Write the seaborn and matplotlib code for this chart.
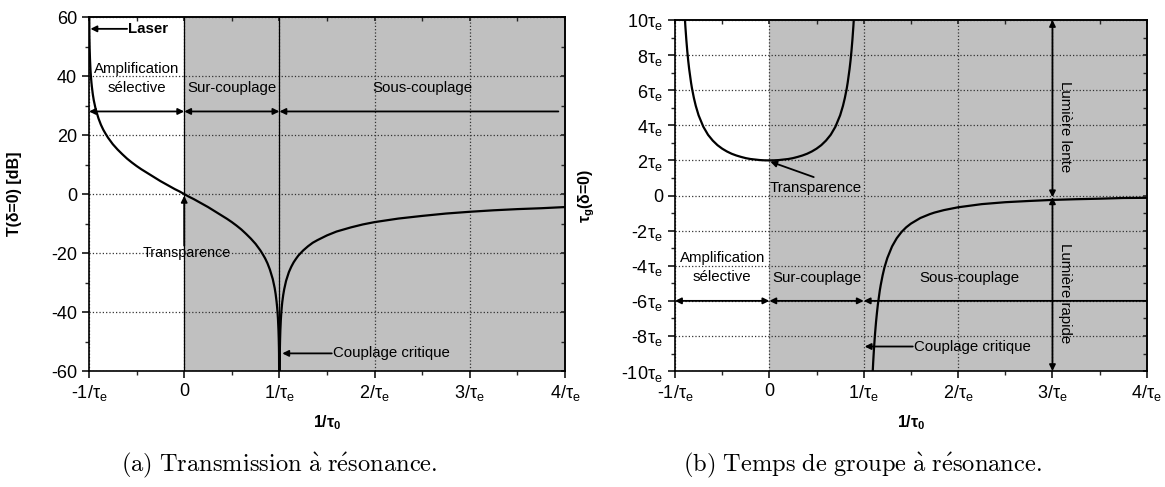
import matplotlib
matplotlib.use("Agg")
import matplotlib.pyplot as plt
from matplotlib.ticker import MultipleLocator
import seaborn as sns

# (a) transmission at resonance
trans_x = [-0.997, -0.996, -0.995, -0.993, -0.99, -0.985, -0.98, -0.975, -0.97, -0.96,
           -0.95, -0.93, -0.9, -0.875, -0.85, -0.825, -0.8, -0.75, -0.7, -0.65,
           -0.6, -0.55, -0.5, -0.45, -0.4, -0.35, -0.3, -0.25, -0.2, -0.15, -0.1, -0.05,
           0.0, 0.05, 0.1, 0.15, 0.2, 0.25, 0.3, 0.35, 0.4, 0.45, 0.5, 0.55,
           0.6, 0.65, 0.7, 0.75, 0.8, 0.825, 0.85, 0.875, 0.9, 0.93, 0.95, 0.96,
           0.97, 0.975, 0.98, 0.985, 0.99, 0.993, 0.995, 0.996, 0.997,
           1.0, 1.002, 1.003, 1.004, 1.005, 1.007, 1.01, 1.015, 1.02, 1.025, 1.03,
           1.04, 1.05, 1.07, 1.1, 1.125, 1.15, 1.175, 1.2, 1.25, 1.3, 1.35, 1.4,
           1.5, 1.6, 1.75, 1.875, 2.0, 2.25, 2.5, 2.75, 3.0, 3.25, 3.5, 3.75, 4.0]
trans_db = [60.0, 54.0, 52.0, 49.1, 46.0, 42.4, 39.9, 38.0, 36.4, 33.8,
            31.8, 28.8, 25.6, 23.5, 21.8, 20.4, 19.1, 16.9, 15.1, 13.5,
            12.0, 10.7, 9.5, 8.4, 7.4, 6.4, 5.4, 4.4, 3.5, 2.6, 1.7, 0.9,
            0.0, -0.9, -1.7, -2.6, -3.5, -4.4, -5.4, -6.4, -7.4, -8.4, -9.5, -10.7,
            -12.0, -13.5, -15.1, -16.9, -19.1, -20.4, -21.8, -23.5, -25.6, -28.8, -31.8, -33.8,
            -36.4, -38.0, -39.9, -42.4, -46.0, -49.1, -52.0, -54.0, -60.0,
            -60.0, -60.0, -56.5, -54.0, -52.1, -49.2, -46.1, -42.6, -40.1, -38.2, -36.6,
            -34.2, -32.3, -29.4, -26.4, -24.6, -23.1, -21.9, -20.8, -19.1, -17.7, -16.5, -15.6,
            -14.0, -12.7, -11.3, -10.3, -9.5, -8.3, -7.4, -6.6, -6.0, -5.5, -5.1, -4.8, -4.4]

# (b) group delay at resonance (units of tau_e), two branches
delay_in_x = [-0.8944, -0.89, -0.88, -0.87, -0.86, -0.85, -0.83, -0.82, -0.8, -0.78,
              -0.75, -0.7, -0.65, -0.6, -0.55, -0.5, -0.45, -0.4, -0.35, -0.3,
              -0.25, -0.2, -0.15, -0.1, -0.05, 0.0, 0.05, 0.1, 0.15, 0.2, 0.25,
              0.3, 0.35, 0.4, 0.45, 0.5, 0.55, 0.6, 0.65, 0.7, 0.75, 0.78, 0.8,
              0.82, 0.83, 0.85, 0.86, 0.87, 0.88, 0.89, 0.8944]
delay_in = [10.0, 9.62, 8.87, 8.23, 7.68, 7.21, 6.43, 6.10, 5.56, 5.11,
            4.57, 3.92, 3.46, 3.13, 2.87, 2.67, 2.51, 2.38, 2.28, 2.20,
            2.13, 2.08, 2.05, 2.02, 2.005, 2.0, 2.005, 2.02, 2.05, 2.08, 2.13,
            2.20, 2.28, 2.38, 2.51, 2.67, 2.87, 3.13, 3.46, 3.92, 4.57, 5.11, 5.56,
            6.10, 6.43, 7.21, 7.68, 8.23, 8.87, 9.62, 10.0]
delay_out_x = [1.0955, 1.1, 1.105, 1.11, 1.12, 1.13, 1.14, 1.15, 1.17, 1.18, 1.2,
               1.22, 1.25, 1.3, 1.35, 1.4, 1.45, 1.5, 1.6, 1.7, 1.75, 1.85, 2.0,
               2.25, 2.5, 2.75, 3.0, 3.25, 3.5, 3.75, 4.0]
delay_out = [-10.0, -9.52, -9.05, -8.61, -7.86, -7.22, -6.68, -6.20, -5.42, -5.10, -4.55,
             -4.09, -3.56, -2.90, -2.43, -2.08, -1.81, -1.60, -1.28, -1.06, -0.97, -0.83, -0.67,
             -0.49, -0.38, -0.31, -0.25, -0.21, -0.18, -0.14, -0.13]

x_ticks = [-1, 0, 1, 2, 3, 4]
x_tick_labels = ["-1/τ$_\\mathregular{e}$", "0", "1/τ$_\\mathregular{e}$",
                 "2/τ$_\\mathregular{e}$", "3/τ$_\\mathregular{e}$", "4/τ$_\\mathregular{e}$"]
db_ticks = [-60, -40, -20, 0, 20, 40, 60]
delay_ticks = [-10, -8, -6, -4, -2, 0, 2, 4, 6, 8, 10]
delay_tick_labels = [("%dτ$_\\mathregular{e}$" % v) if v != 0 else "0" for v in delay_ticks]

sns.set_theme(style="ticks")
plt.rcParams["font.family"] = ["Liberation Sans", "DejaVu Sans"]
plt.rcParams["mathtext.fontset"] = "custom"
plt.rcParams["mathtext.rm"] = "Liberation Sans"
plt.rcParams["mathtext.it"] = "Liberation Sans:italic"
plt.rcParams["mathtext.bf"] = "Liberation Sans:bold"
plt.rcParams["axes.unicode_minus"] = False
plt.rcParams["text.color"] = "black"
plt.rcParams["axes.labelcolor"] = "black"

fig = plt.figure(figsize=(11.65, 4.87), dpi=100)
ax1 = fig.add_axes([0.0764, 0.238, 0.4086, 0.727])
ax2 = fig.add_axes([0.5794, 0.238, 0.405, 0.721])

arrow_both = dict(arrowstyle="<|-|>", color="black", lw=1.3, shrinkA=0, shrinkB=0, mutation_scale=9)
arrow_one = dict(arrowstyle="-|>", color="black", lw=1.3, shrinkA=0, shrinkB=0, mutation_scale=9)
txt = dict(fontsize=10.8, ha="center", va="center")


def style_axes(ax, yticks, ylim, yminor):
    ax.axvspan(0, 4, color="#c0c0c0", zorder=0, lw=0)
    ax.set_xlim(-1, 4)
    ax.set_ylim(*ylim)
    ax.set_xticks(x_ticks)
    ax.set_xticklabels(x_tick_labels)
    ax.set_yticks(yticks)
    ax.xaxis.set_minor_locator(MultipleLocator(0.5))
    ax.yaxis.set_minor_locator(MultipleLocator(yminor))
    ax.grid(True, which="major", ls=":", color="#333333", lw=0.9)
    ax.tick_params(which="major", direction="out", length=5, width=1.1, labelsize=13, colors="black")
    ax.tick_params(which="minor", direction="out", length=3, width=1.0)
    for s in ax.spines.values():
        s.set_visible(True)
        s.set_linewidth(1.2)
        s.set_color("black")
    top = ax.secondary_xaxis("top")
    top.set_xticks(x_ticks)
    top.xaxis.set_minor_locator(MultipleLocator(0.5))
    top.tick_params(which="both", direction="in", labeltop=False, length=3)
    right = ax.secondary_yaxis("right")
    right.set_yticks(yticks)
    right.yaxis.set_minor_locator(MultipleLocator(yminor))
    right.tick_params(which="both", direction="in", labelright=False, length=3)
    ax.set_xlabel("1/τ$_\\mathbf{0}$", fontsize=11.5, fontweight="bold")
    ax.xaxis.set_label_coords(0.5, -0.12)


# ---- panel (a)
style_axes(ax1, db_ticks, (-60, 60), 10)
ax1.axvline(0, color="black", lw=0.9, zorder=1)
ax1.axvline(1, color="black", lw=0.9, zorder=1)
sns.lineplot(x=trans_x, y=trans_db, ax=ax1, color="black", lw=1.6, estimator=None, sort=False)
ax1.set_ylabel("T(δ=0) [dB]", fontsize=11.5, fontweight="bold")
ax1.yaxis.set_label_coords(-0.14, 0.5)

ax1.annotate("", xy=(0, 28), xytext=(-1, 28), arrowprops=arrow_both)
ax1.annotate("", xy=(1, 28), xytext=(0, 28), arrowprops=arrow_both)
ax1.annotate("", xy=(1, 28), xytext=(3.93, 28), arrowprops=arrow_one)
ax1.text(-0.5, 39.2, "Amplification\nsélective", linespacing=1.45, **txt)
ax1.text(0.5, 35.9, "Sur-couplage", **txt)
ax1.text(2.5, 35.9, "Sous-couplage", **txt)
ax1.annotate("", xy=(-0.985, 56), xytext=(-0.6, 56), arrowprops=arrow_one)
ax1.text(-0.59, 56, "Laser", fontsize=10.8, fontweight="bold", ha="left", va="center")
ax1.annotate("", xy=(0, -0.6), xytext=(0, -17.5), arrowprops=arrow_one)
ax1.text(0.03, -20, "Transparence", fontsize=10.3, ha="center", va="center")
ax1.annotate("", xy=(1.03, -54), xytext=(1.55, -54), arrowprops=arrow_one)
ax1.text(1.56, -54, "Couplage critique", fontsize=10.8, ha="left", va="center")

# ---- panel (b)
style_axes(ax2, delay_ticks, (-10, 10), 1)
ax2.set_yticklabels(delay_tick_labels)
sns.lineplot(x=delay_in_x, y=delay_in, ax=ax2, color="black", lw=1.6, estimator=None, sort=False)
sns.lineplot(x=delay_out_x, y=delay_out, ax=ax2, color="black", lw=1.6, estimator=None, sort=False)
ax2.set_ylabel("τ$_\\mathregular{g}$(δ=0)", fontsize=11.5, fontweight="bold")
ax2.yaxis.set_label_coords(-0.165, 0.5)

ax2.annotate("", xy=(0, -6), xytext=(-1, -6), arrowprops=arrow_both)
ax2.annotate("", xy=(1, -6), xytext=(0, -6), arrowprops=arrow_both)
ax2.annotate("", xy=(1, -6), xytext=(4, -6), arrowprops=arrow_one)
ax2.text(-0.5, -4.1, "Amplification\nsélective", linespacing=1.45, **txt)
ax2.text(0.5, -4.7, "Sur-couplage", **txt)
ax2.text(2.12, -4.7, "Sous-couplage", **txt)
ax2.annotate("", xy=(0.01, 1.93), xytext=(0.47, 1.05), arrowprops=arrow_one)
ax2.text(0.0, 0.45, "Transparence", fontsize=10.8, ha="left", va="center")
ax2.annotate("", xy=(1.01, -8.6), xytext=(1.52, -8.6), arrowprops=arrow_one)
ax2.text(1.53, -8.6, "Couplage critique", fontsize=10.8, ha="left", va="center")
ax2.annotate("", xy=(3, 10), xytext=(3, -0.1), arrowprops=arrow_both)
ax2.annotate("", xy=(3, -10), xytext=(3, -0.1), arrowprops=arrow_both)
ax2.text(3.13, 3.9, "Lumière lente", rotation=270, **txt)
ax2.text(3.13, -5.55, "Lumière rapide", rotation=270, **txt)

cap = dict(fontsize=17.6, ha="center", va="center", math_fontfamily="cm")
fig.text(0.2395, 0.045, r"$\mathrm{(a)\ Transmission\ \grave{a}\ r\acute{e}sonance.}$", **cap)
fig.text(0.740, 0.045, r"$\mathrm{(b)\ Temps\ de\ groupe\ \grave{a}\ r\acute{e}sonance.}$", **cap)

fig.savefig("out.png", dpi=100)
